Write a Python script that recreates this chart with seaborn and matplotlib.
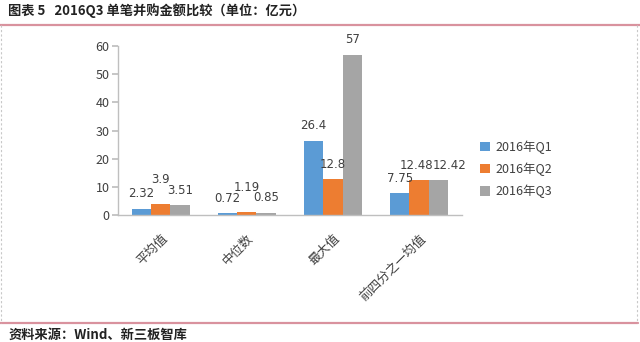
import matplotlib
matplotlib.use("Agg")
import matplotlib.pyplot as plt
import seaborn as sns
import pandas as pd
from matplotlib.patches import Rectangle
from matplotlib.lines import Line2D

categories = ["平均值", "中位数", "最大值", "前四分之一均值"]
series_names = ["2016年Q1", "2016年Q2", "2016年Q3"]
q1_values = [2.32, 0.72, 26.4, 7.75]
q2_values = [3.9, 1.19, 12.8, 12.48]
q3_values = [3.51, 0.85, 57, 12.42]
value_labels = [["2.32", "0.72", "26.4", "7.75"],
                ["3.9", "1.19", "12.8", "12.48"],
                ["3.51", "0.85", "57", "12.42"]]
y_ticks = [0, 10, 20, 30, 40, 50, 60]
colors = ["#5B9BD5", "#ED7D31", "#A5A5A5"]

sns.set_theme(style="white")
plt.rcParams['font.family'] = ['Noto Sans CJK SC', 'DejaVu Sans']

rows = []
for s, vals in zip(series_names, [q1_values, q2_values, q3_values]):
    for c, v in zip(categories, vals):
        rows.append({"cat": c, "series": s, "value": v})
df = pd.DataFrame(rows)

fig = plt.figure(figsize=(6.4, 3.42), dpi=100)
ax = fig.add_axes([0.184, 0.371, 0.538, 0.494])
sns.barplot(data=df, x="cat", y="value", hue="series", order=categories,
            hue_order=series_names, palette=colors, saturation=1,
            width=0.67, ax=ax, legend=False, linewidth=0)

ax.set_ylim(0, 60)
ax.set_xlim(-0.5, len(categories) - 0.5)
ax.set_yticks(y_ticks)
ax.set_xlabel("")
ax.set_ylabel("")
for sp in ["top", "right"]:
    ax.spines[sp].set_visible(False)
for sp in ["left", "bottom"]:
    ax.spines[sp].set_color("#BFBFBF")
    ax.spines[sp].set_linewidth(1.0)
ax.tick_params(axis="y", which="both", left=True, length=4, color="#BFBFBF",
               labelsize=9, labelcolor="#404040", pad=2)
ax.tick_params(axis="x", bottom=False, labelsize=9, labelcolor="#404040", pad=6)
for lab in ax.get_xticklabels():
    lab.set_rotation(45)
    lab.set_ha("right")
    lab.set_va("top")
    lab.set_rotation_mode("anchor")

# value labels
for si, cont in enumerate(ax.containers):
    for ci, bar in enumerate(cont):
        pad = 6
        dx = 0
        if si == 1 and ci in (0, 1):
            pad = 13
        if ci == 3 and si == 1:
            dx = -2
        if ci == 3 and si == 2:
            dx = 8
        ax.annotate(value_labels[si][ci],
                    (bar.get_x() + bar.get_width() / 2, bar.get_height()),
                    xytext=(dx, pad), textcoords="offset points",
                    ha="center", va="bottom", fontsize=8.5, color="#404040",
                    family=['DejaVu Sans'])

# legend
handles = [Rectangle((0, 0), 1, 1, facecolor=c, edgecolor="none") for c in colors]
fig.legend(handles, series_names, loc="center left",
           bbox_to_anchor=(0.732, 0.505), frameon=False, fontsize=9,
           handlelength=0.8, handleheight=0.8, handletextpad=0.5,
           labelspacing=0.7, labelcolor="#404040")

# title and frame decorations
fig.text(0.013, 0.968, "图表 5   2016Q3 单笔并购金额比较（单位：亿元）",
         ha="left", va="center", fontsize=9.5, fontweight="bold", color="#222222")
fig.add_artist(Line2D([0, 1], [1 - 25 / 342] * 2, transform=fig.transFigure,
                      color="#D9929E", linewidth=1.6))
fig.add_artist(Line2D([0, 0.997], [1 - 323 / 342] * 2, transform=fig.transFigure,
                      color="#D9929E", linewidth=1.6))
fig.add_artist(Line2D([0.002, 0.002], [1 - 25 / 342, 1 - 323 / 342],
                      transform=fig.transFigure, color="#C8C8C8",
                      linewidth=0.8, linestyle=(0, (2, 2))))
fig.add_artist(Line2D([0.995, 0.995], [1 - 25 / 342, 1 - 323 / 342],
                      transform=fig.transFigure, color="#C8C8C8",
                      linewidth=0.8, linestyle=(0, (2, 2))))
fig.text(0.013, 1 - 335 / 342, "资料来源：Wind、新三板智库",
         ha="left", va="center", fontsize=9.5, fontweight="bold", color="#222222")

fig.savefig("out.png", dpi=100, facecolor="white")
